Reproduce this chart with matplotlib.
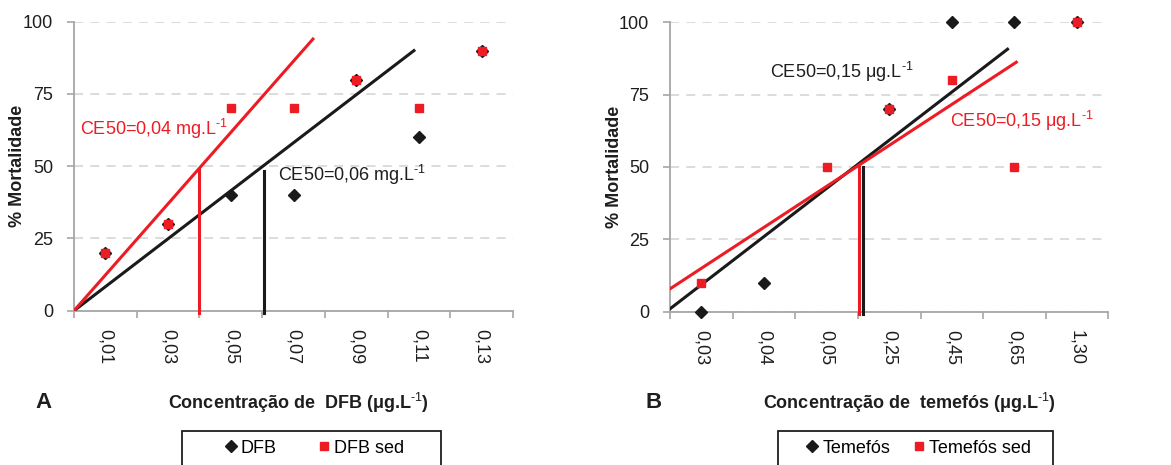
import numpy as np
import matplotlib.pyplot as plt
from matplotlib.lines import Line2D
from matplotlib.patches import Rectangle

plt.rcParams["font.family"] = ["Liberation Sans", "DejaVu Sans"]
plt.rcParams["mathtext.fontset"] = "custom"
plt.rcParams["mathtext.rm"] = "Liberation Sans"
plt.rcParams["mathtext.bf"] = "Liberation Sans:bold"

RED = "#ed1c24"
BLACK = "#1a1a1a"
GRAY = "#a6a6a6"
TXT = "#1e1e1e"

# painel A - diflubenzuron
dfb_conc = ["0,01", "0,03", "0,05", "0,07", "0,09", "0,11", "0,13"]
dfb = [20, 30, 40, 40, 80, 60, 90]
dfb_sed = [20, 30, 70, 70, 80, 70, 90]
dfb_trend_x, dfb_trend_y = [0.5, 5.92], [0, 90]
dfb_sed_trend_x, dfb_sed_trend_y = [0.5, 4.31], [0, 94]
dfb_ce50_x, dfb_ce50_y = 3.53, 48.5
dfb_sed_ce50_x, dfb_sed_ce50_y = 2.5, 49

# painel B - temefós
tem_conc = ["0,03", "0,04", "0,05", "0,25", "0,45", "0,65", "1,30"]
temefos = [0, 10, np.nan, 70, 100, 100, 100]
temefos_sed = [10, np.nan, 50, 70, 80, 50, 100]
tem_trend_x, tem_trend_y = [0.5, 5.89], [1, 90.7]
tem_sed_trend_x, tem_sed_trend_y = [0.5, 6.03], [7.9, 86.2]
tem_ce50_x, tem_ce50_y = 3.58, 50
tem_sed_ce50_x, tem_sed_ce50_y = 3.51, 50

SUP = r"$^{\text{-1}}$"
SUP_BF = r"$\mathbf{^{\text{-1}}}$"


def style_axes(ax, labels, ylab_x):
    pos = np.arange(1, len(labels) + 1)
    ax.set_xlim(0.5, len(labels) + 0.5)
    ax.set_ylim(0, 100)
    ax.set_yticks([0, 25, 50, 75, 100])
    ax.set_xticks(pos)
    ax.set_xticklabels(labels, rotation=-90, fontsize=13, color=TXT)
    ax.set_xticks(np.arange(0.5, len(labels) + 1), minor=True)
    ax.tick_params(axis="x", which="major", length=0, pad=13)
    ax.tick_params(axis="x", which="minor", length=5, color=GRAY, width=1.2)
    ax.tick_params(axis="y", length=5, color=GRAY, width=1.2, labelsize=13,
                   labelcolor=TXT, pad=10)
    for s in ("top", "right"):
        ax.spines[s].set_visible(False)
    for s in ("left", "bottom"):
        ax.spines[s].set_color(GRAY)
        ax.spines[s].set_linewidth(1.3)
    ax.yaxis.grid(True, ls=(0, (5, 4)), color="#d9d9d9", lw=1.3)
    ax.set_axisbelow(True)
    ax.set_ylabel("% Mortalidade", fontsize=13, fontweight="bold", color=TXT)
    ax.yaxis.set_label_coords(ylab_x, 0.5)
    return pos


fig = plt.figure(figsize=(11.71, 4.65), dpi=100)
ax1 = fig.add_axes([0.0632, 0.3318, 0.3749, 0.6215])
ax2 = fig.add_axes([0.5722, 0.3297, 0.3743, 0.6224])

# A
x = style_axes(ax1, dfb_conc, -0.109)
ax1.plot(dfb_trend_x, dfb_trend_y, color=BLACK, lw=2.2, zorder=3)
ax1.plot(dfb_sed_trend_x, dfb_sed_trend_y, color=RED, lw=2.2, zorder=3)
ax1.plot([dfb_ce50_x] * 2, [-0.8, dfb_ce50_y], color=BLACK, lw=2.2, clip_on=False, zorder=3)
ax1.plot([dfb_sed_ce50_x] * 2, [-0.8, dfb_sed_ce50_y], color=RED, lw=2.2, clip_on=False, zorder=3)
ax1.plot(x, dfb, "D", color=BLACK, ms=6, ls="none", zorder=4)
ax1.plot(x, dfb_sed, "s", color=RED, ms=5.8, ls="none", zorder=5)
ax1.text(0.6, 63, "CE50=0,04 mg.L" + SUP, color=RED, fontsize=13, va="center")
ax1.text(3.75, 47, "CE50=0,06 mg.L" + SUP, color=TXT, fontsize=13, va="center")

# B
x = style_axes(ax2, tem_conc, -0.107)
ax2.plot(tem_trend_x, tem_trend_y, color=BLACK, lw=2.2, zorder=3)
ax2.plot(tem_sed_trend_x, tem_sed_trend_y, color=RED, lw=2.2, zorder=3)
ax2.plot([tem_ce50_x] * 2, [-0.8, tem_ce50_y], color=BLACK, lw=2.2, clip_on=False, zorder=3)
ax2.plot([tem_sed_ce50_x] * 2, [-0.8, tem_sed_ce50_y], color=RED, lw=2.2, clip_on=False, zorder=3)
ax2.plot(x, temefos, "D", color=BLACK, ms=6, ls="none", zorder=4, clip_on=False)
ax2.plot(x, temefos_sed, "s", color=RED, ms=5.8, ls="none", zorder=5, clip_on=False)
ax2.text(2.1, 83, "CE50=0,15 μg.L" + SUP, color=TXT, fontsize=13, va="center")
ax2.text(4.97, 66, "CE50=0,15 μg.L" + SUP, color=RED, fontsize=13, va="center")

# rótulos dos eixos x e letras dos painéis
fig.text(298 / 1171, 1 - 403 / 465, "Concentração de  DFB (μg.L" + SUP_BF + ")",
         fontsize=13, fontweight="bold", ha="center", va="center", color=TXT)
fig.text(909 / 1171, 1 - 403 / 465, "Concentração de  temefós (μg.L" + SUP_BF + ")",
         fontsize=13, fontweight="bold", ha="center", va="center", color=TXT)
fig.text(43.5 / 1171, 1 - 402 / 465, "A", fontsize=16, fontweight="bold",
         ha="center", va="center", color=TXT)
fig.text(654 / 1171, 1 - 402 / 465, "B", fontsize=16, fontweight="bold",
         ha="center", va="center", color=TXT)


def add_legend(names, cx, x0, x1, spacing):
    handles = [
        Line2D([], [], marker="D", color=BLACK, ls="none", ms=6),
        Line2D([], [], marker="s", color=RED, ls="none", ms=5.8),
    ]
    fig.legend(handles, names, loc="center", ncol=2,
               bbox_to_anchor=(cx / 1171, 1 - 448 / 465), fontsize=13,
               frameon=False, handlelength=0.6, handletextpad=0.25,
               columnspacing=spacing, borderpad=0, borderaxespad=0)
    fig.patches.append(Rectangle((x0 / 1171, -0.1), (x1 - x0) / 1171,
                                 0.1 + 1 - 431 / 465, transform=fig.transFigure,
                                 fill=False, edgecolor=TXT, lw=1.3))


add_legend(["DFB", "DFB sed"], 314.5, 182, 441, 2.3)
add_legend(["Temefós", "Temefós sed"], 919, 778, 1053, 1.3)

fig.savefig("out.png", dpi=100)
